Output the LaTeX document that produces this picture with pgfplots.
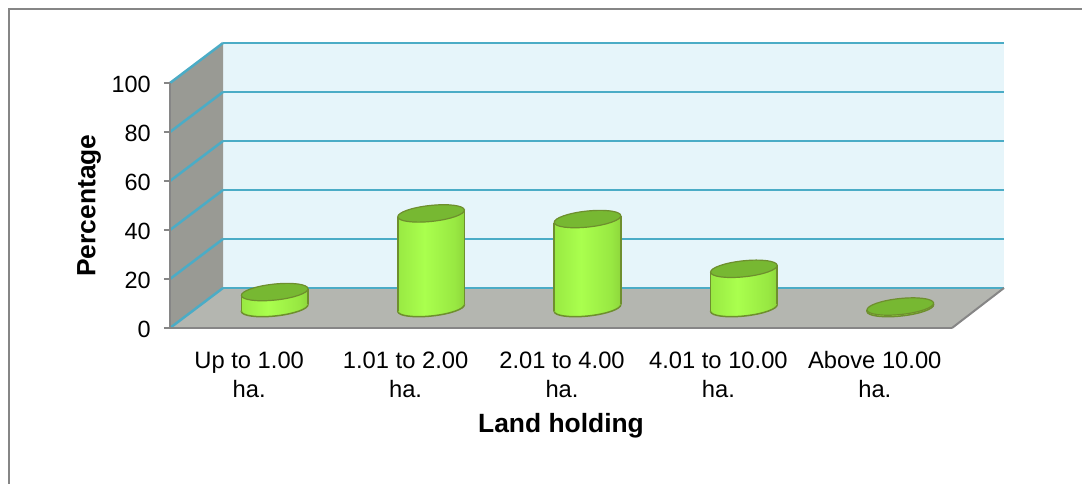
\documentclass[border=0pt]{standalone}
\usepackage{fontspec}
\setmainfont{Liberation Sans}
\usepackage{pgfplots}
\usepackage{pgfplotstable}
\pgfplotsset{compat=1.18}

% Drawing unit: the picture is laid out on a 1082 by 484 grid
\newlength{\px}
\setlength{\px}{0.75pt}

\definecolor{frameline}{HTML}{868686}
\definecolor{gridblue}{HTML}{4BACC6}
\definecolor{backwall}{HTML}{E6F5FA}
\definecolor{sidewall}{HTML}{999A94}
\definecolor{floorgrey}{HTML}{B4B6B0}
\definecolor{capgreen}{HTML}{77B832}
\definecolor{edgegreen}{HTML}{6E8F2E}
\definecolor{cylA}{RGB}{96,146,36}
\definecolor{cylB}{RGB}{122,184,48}
\definecolor{cylC}{RGB}{152,232,66}
\definecolor{cylD}{RGB}{170,255,78}
\definecolor{cylE}{RGB}{122,182,48}
\definecolor{cylF}{RGB}{90,134,32}

% Left-to-right light across the round face of a cylinder
\pgfdeclarehorizontalshading{cylshade}{100bp}{
  color(0bp)=(cylA);
  color(8bp)=(cylB);
  color(24bp)=(cylC);
  color(45bp)=(cylD);
  color(68bp)=(cylC);
  color(88bp)=(cylE);
  color(100bp)=(cylF)}

% Tilted ellipse: the lid of a cylinder
\pgfdeclareplotmark{cyllid}{%
  \pgfpathellipse{\pgfpointorigin}{\pgfpoint{24.98pt}{2.63pt}}{\pgfpoint{-0.63pt}{5.97pt}}%
  \pgfusepathqfillstroke}
% The same ellipse with the cylinder's shading: its round foot
\pgfdeclareplotmark{cylfoot}{%
  \pgfpathellipse{\pgfpointorigin}{\pgfpoint{24.98pt}{2.63pt}}{\pgfpoint{-0.63pt}{5.97pt}}%
  \pgfshadepath{cylshade}{0}%
  \pgfpathellipse{\pgfpointorigin}{\pgfpoint{24.98pt}{2.63pt}}{\pgfpoint{-0.63pt}{5.97pt}}%
  \pgfusepathqstroke}

% Percentage of holdings in each class, at the class position on the axis
\pgfplotstableread{
pos  share
0.5  6.5
1.5  38.6
2.5  36.3
3.5  16.0
4.5  0.6
}\holdings

% Cylinder body between foot and lid; #1 = class position, #2 = share
\newcommand{\cylbody}[2]{%
  \pgfmathsetmacro{\xl}{#1-0.2129}%
  \pgfmathsetmacro{\xr}{#1+0.2129}%
  \pgfmathsetmacro{\yl}{#2-1.43}%
  \pgfmathsetmacro{\yr}{#2+1.43}%
  \edef\next{%
    \noexpand\addplot[draw=none, shading=cylshade, forget plot]
      coordinates {(\xl,-1.43) (\xl,\yl) (\xr,\yr) (\xr,1.43)} -- cycle;
    \noexpand\addplot[edgegreen, line width=1.5\px, forget plot]
      coordinates {(\xl,-1.43) (\xl,\yl)};
    \noexpand\addplot[edgegreen, line width=1.5\px, forget plot]
      coordinates {(\xr,1.43) (\xr,\yr)};
  }\next}

% The plane the cylinders stand on, halfway into the box
\pgfplotsset{midplane/.style={
  at={(196.5\px,176\px)}, anchor=south west,
  scale only axis, width=782\px, height=245\px,
  xmin=0, xmax=5, ymin=0, ymax=100,
  clip=false, axis lines=none}}

\begin{document}
\begin{tikzpicture}[x=1\px, y=1\px]
\useasboundingbox (0,0) rectangle (1082,484);
\fill[white] (0,0) rectangle (1082,484);
% chart frame, open to the right and below
\draw[frameline, line width=2\px] (9,0) -- (9,475) -- (1082,475);

% Walls, floor and scale: front plane of the box
\begin{axis}[
  at={(170\px,156\px)}, anchor=south west,
  scale only axis, width=782\px, height=245\px,
  xmin=0, xmax=5, ymin=0, ymax=100,
  clip=false, axis on top,
  axis x line*=bottom, axis y line*=left,
  axis line style={frameline, line width=2\px, -},
  xtick={0.5,1.5,2.5,3.5,4.5},
  xticklabels={Up to 1.00\\ha.,1.01 to 2.00\\ha.,2.01 to 4.00\\ha.,4.01 to 10.00\\ha.,Above 10.00\\ha.},
  x tick label style={align=center, font=\fontsize{17.8pt}{21.8pt}\selectfont, yshift=-13\px, xshift=1\px},
  ytick={0,20,...,100},
  y tick label style={font=\fontsize{17.6pt}{21pt}\selectfont, xshift=-8.5\px, yshift=-1.5\px},
  /pgf/number format/assume math mode=true,
  tick align=outside,
  major tick length=6\px,
  x tick style={draw=none},
  y tick style={frameline, line width=1.5\px},
  xlabel={\bfseries Land holding},
  ylabel={\bfseries Percentage},
  every axis x label/.style={at={(axis description cs:0.5,0)}, anchor=center, yshift=-98\px, font=\fontsize{19.8pt}{24pt}\selectfont},
  every axis y label/.style={at={(axis description cs:0,0.5)}, anchor=center, rotate=90, yshift=81\px, font=\fontsize{19.8pt}{24pt}\selectfont},
]
  % back wall, side wall, floor
  \addplot[fill=backwall, draw=none] coordinates {(0.3389,16.33) (0.3389,116.33) (5.3325,116.33) (5.3325,16.33)} -- cycle;
  \addplot[fill=sidewall, draw=none] coordinates {(0,0) (0,100) (0.3389,116.33) (0.3389,16.33)} -- cycle;
  \addplot[fill=floorgrey, draw=none] coordinates {(0,0) (0.3389,16.33) (5.3325,16.33) (5,0)} -- cycle;
  % gridlines along the back wall
  \addplot[gridblue, line width=2.5\px] coordinates {(0.3389,16.33) (5.3325,16.33)};
  \addplot[gridblue, line width=2.5\px] coordinates {(0.3389,36.33) (5.3325,36.33)};
  \addplot[gridblue, line width=2.5\px] coordinates {(0.3389,56.33) (5.3325,56.33)};
  \addplot[gridblue, line width=2.5\px] coordinates {(0.3389,76.33) (5.3325,76.33)};
  \addplot[gridblue, line width=2.5\px] coordinates {(0.3389,96.33) (5.3325,96.33)};
  \addplot[gridblue, line width=2.5\px] coordinates {(0.3389,116.33) (5.3325,116.33)};
  % gridlines across the side wall
  \addplot[gridblue, line width=2.5\px] coordinates {(0,0) (0.3389,16.33)};
  \addplot[gridblue, line width=2.5\px] coordinates {(0,20) (0.3389,36.33)};
  \addplot[gridblue, line width=2.5\px] coordinates {(0,40) (0.3389,56.33)};
  \addplot[gridblue, line width=2.5\px] coordinates {(0,60) (0.3389,76.33)};
  \addplot[gridblue, line width=2.5\px] coordinates {(0,80) (0.3389,96.33)};
  \addplot[gridblue, line width=2.5\px] coordinates {(0,100) (0.3389,116.33)};
  % right edge of the floor
  \addplot[frameline, line width=2\px] coordinates {(5,0) (5.3325,16.33)};
\end{axis}

% Round feet of the cylinders
\begin{axis}[midplane]
  \addplot[only marks, mark=cylfoot, mark options={draw=edgegreen, line width=1.5\px}] table[x=pos, y expr=0] {\holdings};
\end{axis}

% Cylinder bodies and lids
\begin{axis}[midplane]
  \cylbody{0.5}{6.5}
  \cylbody{1.5}{38.6}
  \cylbody{2.5}{36.3}
  \cylbody{3.5}{16.0}
  \cylbody{4.5}{0.6}
  \addplot[only marks, mark=cyllid, mark options={draw=edgegreen, fill=capgreen, line width=1.2\px}] table[x=pos, y=share] {\holdings};
\end{axis}
\end{tikzpicture}
\end{document}
